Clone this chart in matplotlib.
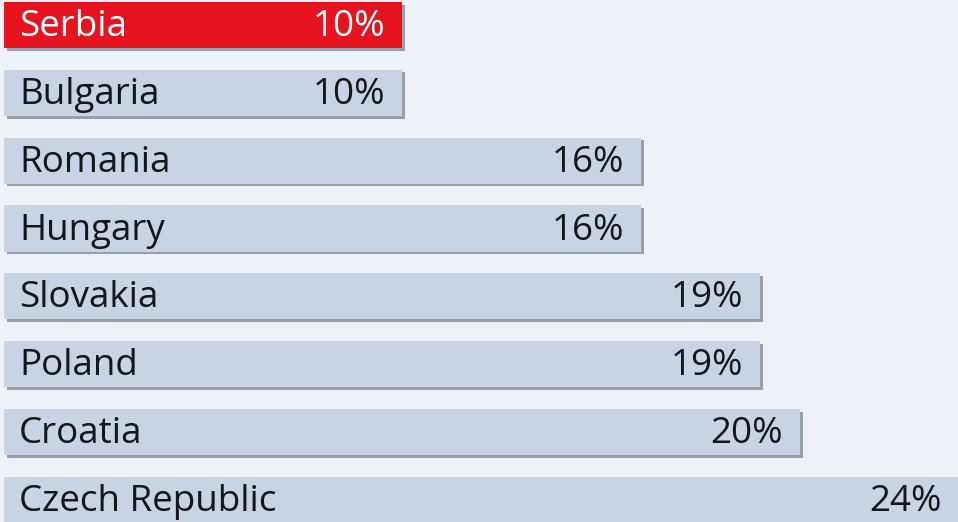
import matplotlib.pyplot as plt
import numpy as np

countries = ['Serbia', 'Bulgaria', 'Romania', 'Hungary', 'Slovakia', 'Poland', 'Croatia', 'Czech Republic']
values = [10, 10, 16, 16, 19, 19, 20, 24]
highlight = 'Serbia'

plt.rcParams['font.family'] = ['Open Sans', 'DejaVu Sans']

fig = plt.figure(figsize=(9.58, 5.22), dpi=100)
ax = fig.add_axes([0, 0, 1, 1])
fig.patch.set_facecolor('#eef2f8')
ax.set_facecolor('#eef2f8')

y = np.arange(len(countries))
bar_h = 0.68
bar_left = 0.1

# soft shadow under each bar (right and bottom edge)
ax.barh(y + 0.04, values, height=bar_h, left=bar_left + 0.08, color='#9a9ea8', zorder=1)
colors = ['#e5141e' if c == highlight else '#c9d3e6' for c in countries]
ax.barh(y, values, height=bar_h, left=bar_left, color=colors, zorder=2)

for i, (c, v) in enumerate(zip(countries, values)):
    tc = 'white' if c == highlight else '#15161a'
    ax.text(bar_left + 0.38, i + 0.03, c, va='center', ha='left', fontsize=26.5, color=tc, zorder=3)
    ax.text(bar_left + v - 0.42, i + 0.03, f'{v}%', va='center', ha='right', fontsize=26.5, color=tc, zorder=3)

ax.set_xlim(0, 24.08)
ax.set_ylim(7.324, -0.368)
ax.axis('off')

plt.savefig('out.png', dpi=100, facecolor=fig.get_facecolor())
